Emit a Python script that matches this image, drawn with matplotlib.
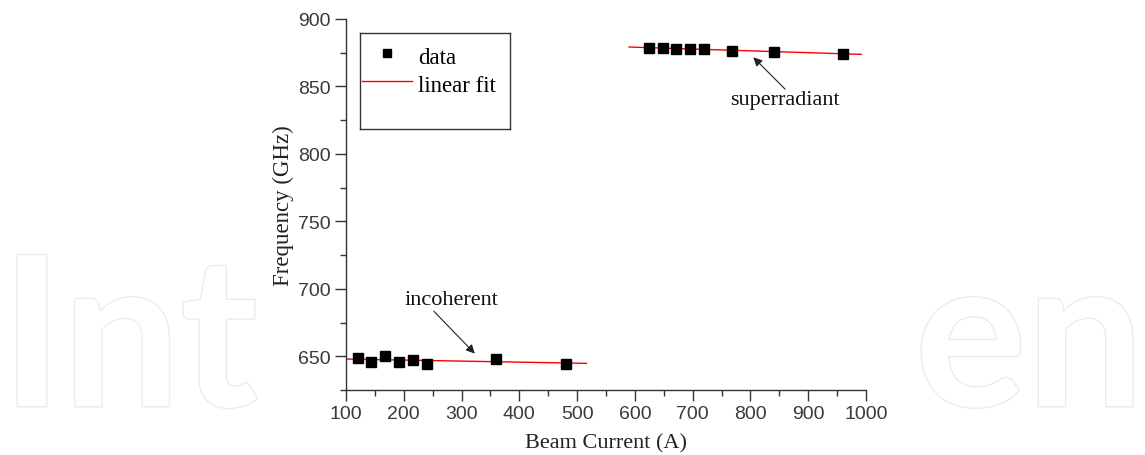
import numpy as np
import matplotlib
matplotlib.use("Agg")
import matplotlib.pyplot as plt
import matplotlib.patheffects as pe

# Data
incoh_current = [120, 144, 168, 192, 216, 240, 360, 480]
incoh_freq = [649.0, 646.0, 650.0, 646.0, 647.0, 644.5, 648.0, 644.5]
super_current = [624, 648, 672, 696, 720, 768, 840, 960]
super_freq = [878.7, 878.5, 878.0, 878.0, 877.7, 876.5, 875.8, 874.3]
incoh_fit_range = [100, 516]
super_fit_range = [590, 992]

x_ticks = [100, 200, 300, 400, 500, 600, 700, 800, 900, 1000]
y_ticks = [650, 700, 750, 800, 850, 900]

W, H = 1145, 456
fig = plt.figure(figsize=(W / 100, H / 100), dpi=100)
fig.patch.set_facecolor("white")

# watermark (outlined, very light)
wm = dict(fontsize=150, family="Lato", weight="bold", color="white", va="baseline",
          zorder=0, path_effects=[pe.withStroke(linewidth=2.2, foreground="#ececec"), pe.Normal()])
fig.text(1 / W, 1 - 407 / H, "Int", ha="left", **wm)
fig.text(1144 / W, 1 - 407 / H, "en", ha="right", **wm)

ax = fig.add_axes([346 / W, 1 - 391 / H, (866 - 346) / W, (391 - 20) / H])
ax.set_zorder(2)
ax.patch.set_alpha(0)

ax.set_xlim(100, 1000)
ax.set_ylim(625, 900)

serif = "Liberation Serif"
sans = "Liberation Sans"

# fits
for xs, ys, rng in [(incoh_current, incoh_freq, incoh_fit_range),
                    (super_current, super_freq, super_fit_range)]:
    p = np.polyfit(xs, ys, 1)
    xx = np.array(rng, dtype=float)
    ax.plot(xx, np.polyval(p, xx), color="red", lw=1.0, zorder=2)

ax.plot(incoh_current, incoh_freq, "s", color="black", ms=6.5, zorder=3)
ax.plot(super_current, super_freq, "s", color="black", ms=6.5, zorder=3)

for s in ["top", "right"]:
    ax.spines[s].set_visible(False)
for s in ["left", "bottom"]:
    ax.spines[s].set_color("#333333")
    ax.spines[s].set_linewidth(1.0)

ax.set_xticks(x_ticks)
ax.set_yticks(y_ticks)
ax.set_xticks(np.arange(150, 1000, 100), minor=True)
ax.set_yticks(np.arange(625, 900, 50), minor=True)
ax.tick_params(which="major", direction="out", length=8, width=1, color="#333333",
               labelsize=14, labelcolor="#3a3a3a", pad=3)
ax.tick_params(which="minor", direction="out", length=4, width=1, color="#333333")
for lab in ax.get_xticklabels() + ax.get_yticklabels():
    lab.set_family(sans)

ax.set_xlabel("Beam Current (A)", fontsize=16, family=serif, color="#222222", labelpad=8)
ax.set_ylabel("Frequency (GHz)", fontsize=16.5, family=serif, color="#222222", labelpad=3)

# annotations
ax.text(282, 692.3, "incoherent", fontsize=16, family=serif, ha="center", va="center",
        color="#111111")
ax.annotate("", xy=(323, 652), xytext=(252, 683.4),
            arrowprops=dict(arrowstyle="-|>", color="#222222", lw=0.8, mutation_scale=13,
                            shrinkA=0, shrinkB=0))
ax.text(860, 840, "superradiant", fontsize=16, family=serif, ha="center", va="center",
        color="#111111")
ax.annotate("", xy=(805, 871.6), xytext=(860, 848),
            arrowprops=dict(arrowstyle="-|>", color="#222222", lw=0.8, mutation_scale=13,
                            shrinkA=0, shrinkB=0))

# legend box
lg = fig.add_axes([360 / W, 1 - 130 / H, (510 - 360) / W, (130 - 34) / H])
lg.set_zorder(3)
lg.set_xlim(0, 150)
lg.set_ylim(96, 0)
lg.set_xticks([])
lg.set_yticks([])
for s in lg.spines.values():
    s.set_color("#333333")
    s.set_linewidth(1.0)
lg.plot([27], [20], "s", color="black", ms=6)
lg.plot([2, 52], [48, 48], color="red", lw=1.0)
lg.text(58, 24, "data", fontsize=16.5, family=serif, va="center", ha="left")
lg.text(58, 52, "linear fit", fontsize=16.5, family=serif, va="center", ha="left")

fig.savefig("out.png", dpi=100)
